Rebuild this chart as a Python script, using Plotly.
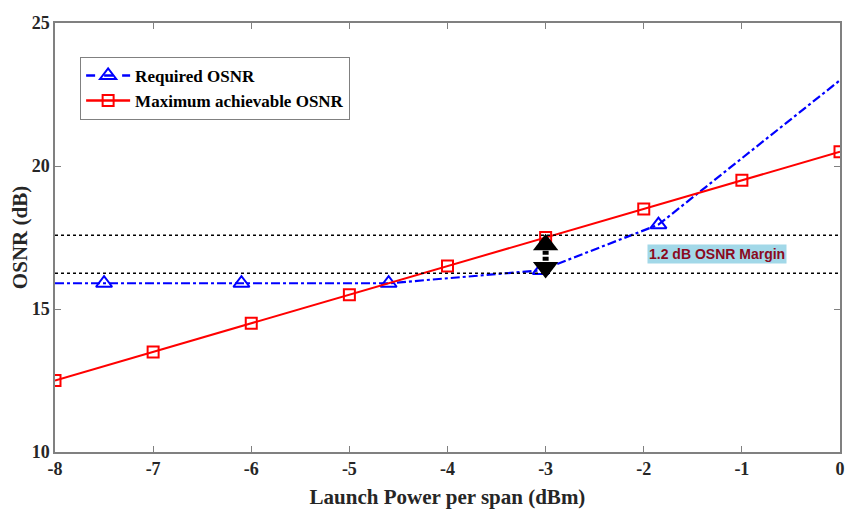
import plotly.graph_objects as go

# Required OSNR (line points, markers only on some)
req_x = [-8, -7.5, -6.1, -4.6, -3.05, -1.85, 0]
req_y = [15.9, 15.9, 15.9, 15.9, 16.35, 17.95, 23.0]
req_mx = [-7.5, -6.1, -4.6, -3.05, -1.85]
req_my = [15.9, 15.9, 15.9, 16.35, 17.95]

# Maximum achievable OSNR
max_x = [-8, -7, -6, -5, -4, -3, -2, -1, 0]
max_y = [12.5, 13.5, 14.5, 15.5, 16.5, 17.5, 18.5, 19.5, 20.5]

# margin reference lines and arrow
margin_levels = [17.58, 16.25]
arrow_x = -3
arrow_top = 17.25
arrow_bot = 16.45

x_ticks = [-8, -7, -6, -5, -4, -3, -2, -1, 0]
x_ticktext = ['-8', '-7', '-6', '-5', '-4', '-3', '-2', '-1', '0']
y_ticks = [10, 15, 20, 25]

BLUE = '#0000FF'
RED = '#FF0000'
SERIF = 'Liberation Serif'
TXT = '#262626'

fig = go.Figure()

for lvl in margin_levels:
    fig.add_hline(y=lvl, line=dict(color='black', width=1.5, dash='dot'))

fig.add_trace(go.Scatter(
    x=req_x, y=req_y, mode='lines', showlegend=False,
    line=dict(color=BLUE, width=2.2, dash='dashdot'),
))
fig.add_trace(go.Scatter(
    x=req_mx, y=req_my, mode='markers', showlegend=False,
    marker=dict(symbol='triangle-up-open', size=14, color=BLUE,
                line=dict(width=2, color=BLUE)),
))
fig.add_trace(go.Scatter(
    x=max_x, y=max_y, mode='lines+markers', showlegend=False,
    line=dict(color=RED, width=2),
    marker=dict(symbol='square-open', size=11, color=RED,
                line=dict(width=2, color=RED)),
))

# legend entries
fig.add_trace(go.Scatter(
    x=[None], y=[None], mode='lines+markers', name='Required OSNR',
    line=dict(color=BLUE, width=2.5, dash='dash'),
    marker=dict(symbol='triangle-up-open', size=14, color=BLUE,
                line=dict(width=2, color=BLUE)),
))
fig.add_trace(go.Scatter(
    x=[None], y=[None], mode='lines+markers', name='Maximum achievable OSNR',
    line=dict(color=RED, width=2.5),
    marker=dict(symbol='square-open', size=11, color=RED,
                line=dict(width=2, color=RED)),
))

# margin arrow
fig.add_trace(go.Scatter(
    x=[arrow_x, arrow_x], y=[arrow_top, arrow_bot], mode='lines',
    showlegend=False, line=dict(color='black', width=6, dash='4px,2px'),
))
fig.add_trace(go.Scatter(
    x=[arrow_x, arrow_x], y=[arrow_top, arrow_bot], mode='markers',
    showlegend=False,
    marker=dict(symbol=['triangle-up', 'triangle-down'], size=22, color='black'),
))

fig.add_annotation(
    x=-1.25, y=16.92, text='<b>1.2 dB OSNR Margin</b>', showarrow=False,
    font=dict(family='Liberation Sans', size=14, color='#8B0A1E'),
    bgcolor='#A2D8E8', borderpad=1,
)

axis_common = dict(
    showgrid=False, zeroline=False, showline=True, linecolor='#808080',
    linewidth=1.5, mirror='ticks', ticks='inside', ticklen=6,
    tickcolor='#808080', tickwidth=1, automargin=False,
    tickfont=dict(family=SERIF, size=18, color=TXT, weight='bold'),
)

fig.update_layout(
    width=848, height=501,
    margin=dict(l=47, r=16, t=15, b=57),
    plot_bgcolor='white', paper_bgcolor='white',
    xaxis=dict(range=[-8, 0], tickvals=x_ticks, ticktext=x_ticktext,
               title=dict(text='Launch Power per span (dBm)', standoff=14,
                          font=dict(family=SERIF, size=21, color=TXT, weight='bold')),
               **axis_common),
    yaxis=dict(range=[10, 25], tickvals=y_ticks,
               title=dict(text='OSNR (dB)', standoff=2,
                          font=dict(family=SERIF, size=21, color=TXT, weight='bold')),
               **axis_common),
    legend=dict(
        x=0.032, y=0.921, xanchor='left', yanchor='top',
        bgcolor='white', bordercolor='#808080', borderwidth=1,
        font=dict(family=SERIF, size=17, color='black', weight='bold'),
        tracegroupgap=0, itemwidth=44,
    ),
)

fig.write_html('out.html')
